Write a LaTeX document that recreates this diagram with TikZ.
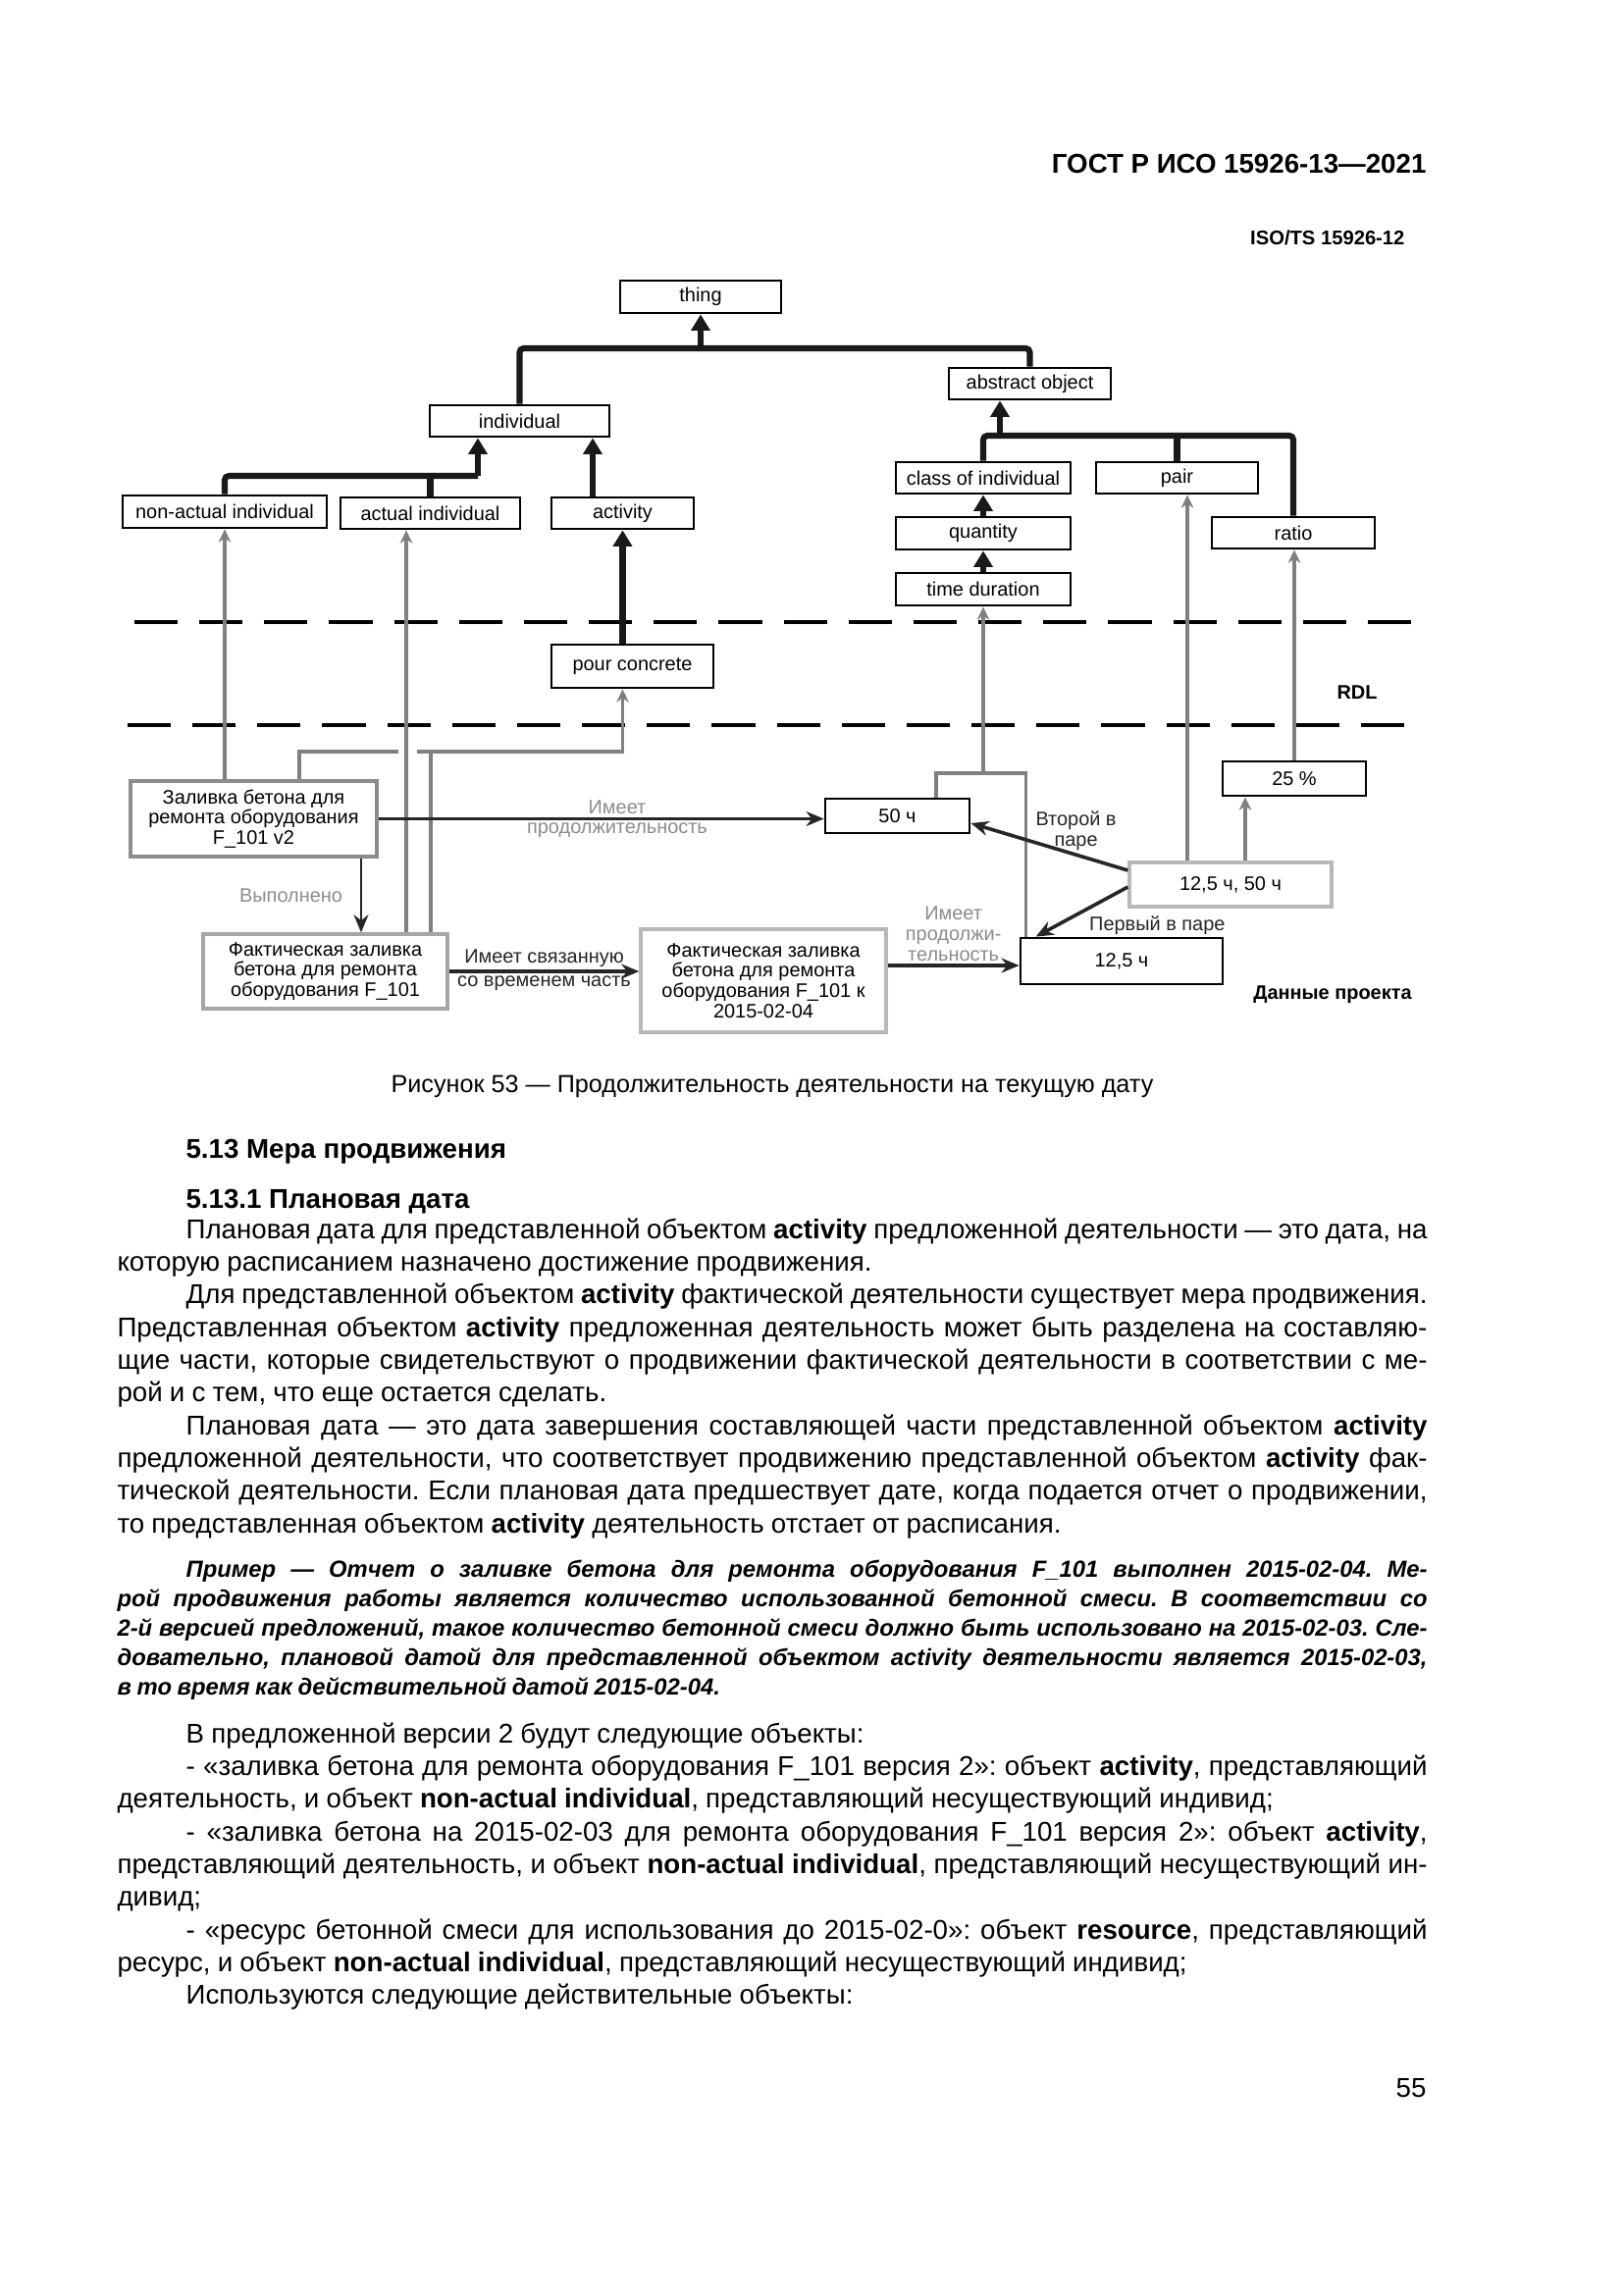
\documentclass[tikz,border=0pt]{standalone}
\usepackage{fontspec}
\setmainfont{Liberation Sans}
\setsansfont{Liberation Sans}
\usetikzlibrary{arrows.meta,positioning}

\newdimen\pix \pix=0.126965mm
\newlength\textw \setlength\textw{169.5mm}
\newcommand{\dfont}{\fontsize{7.2}{7.5}\selectfont}
\newcommand{\bodyfont}{\fontsize{10}{12.05}\selectfont}
\newcommand{\exfont}{\fontsize{8.6}{10.9}\selectfont\bfseries\itshape}
\newcommand{\bodypar}[1]{\parbox[t]{\textw}{\bodyfont\frenchspacing\parindent=8.9mm
  \spaceskip=.26em plus .5em minus .12em\hyphenpenalty=10000
  \exhyphenpenalty=10000\relax #1}}
\newcommand{\expar}[1]{\parbox[t]{\textw}{\exfont\frenchspacing\parindent=8.9mm
  \spaceskip=.24em plus .5em minus .14em\hyphenpenalty=10000
  \exhyphenpenalty=10000\relax #1}}

\begin{document}
\begin{tikzpicture}[
  x=0.126965mm, y=-0.126965mm,
  box/.style={draw, line width=1pt, inner sep=1pt, align=center, font=\dfont},
  inst/.style={box, draw=black!45, line width=1.2pt},
  instl/.style={box, draw=black!28, line width=1.2pt},
  spec/.style={line width=2.2pt, black!90, rounded corners=1.5pt},
  specar/.style={spec, -{Triangle[length=2.1mm,width=2.4mm]}},
  cls/.style={line width=1.1pt, black!50},
  clsar/.style={cls, -{Stealth[length=1.7mm,width=1.6mm]}},
  rel/.style={line width=1.3pt, black!85, -{Stealth[length=2.3mm,width=1.9mm]}},
  glab/.style={font=\dfont, text=black!45, align=center, inner sep=1pt},
  blab/.style={font=\dfont, align=center, inner sep=1pt},
  rdlline/.style={line width=1.1pt, dash pattern=on 5.6mm off 2.8mm},
  txt/.style={inner sep=0}
]
\fill[white] (0,0) rectangle (1654,2339);
\useasboundingbox (0,0) rectangle (1654,2339);

% page head
\node[txt, anchor=base east, font=\fontsize{10}{12}\selectfont\bfseries]
  (gost) at (1454,176) {ГОСТ Р ИСО 15926-13—2021};
\node[txt, anchor=base east, font=\fontsize{7.3}{8}\selectfont\bfseries]
  (isots) at (1432,249) {ISO/TS 15926-12};

% RDL classes
\node[box, minimum width=164\pix, minimum height=33\pix] (thing) at (714,302.5) {thing};
\node[box, minimum width=165\pix, minimum height=32\pix] (abstr) at (1049.5,391) {abstract object};
\node[box, minimum width=183\pix, minimum height=32\pix] (individual) at (529.5,429) {individual};
\node[box, minimum width=208\pix, minimum height=33\pix] (nonact) at (229,521.5) {non-actual individual};
\node[box, minimum width=183\pix, minimum height=32\pix] (actual) at (438.5,523) {actual individual};
\node[box, minimum width=145\pix, minimum height=32\pix] (activity) at (634.5,523) {activity};
\node[box, minimum width=178\pix, minimum height=32\pix] (classind) at (1002,487) {class of individual};
\node[box, minimum width=165\pix, minimum height=32\pix] (pair) at (1199.5,487) {pair};
\node[box, minimum width=166\pix, minimum height=32\pix] (ratio) at (1318,543) {ratio};
\node[box, minimum width=178\pix, minimum height=33\pix] (quantity) at (1002,543.5) {quantity};
\node[box, minimum width=178\pix, minimum height=33\pix] (timedur) at (1002,600.5) {time duration};
\node[box, minimum width=165\pix, minimum height=44\pix] (pour) at (644.5,679) {pour concrete};

% project data
\node[inst, minimum width=251\pix, minimum height=77\pix] (pourv2) at (258.5,834.5)
  {Заливка бетона для\\ремонта оборудования\\F\_101 v2};
\node[box, minimum width=147\pix, minimum height=35\pix] (dur50) at (914.5,831.5) {50 ч};
\node[box, minimum width=146\pix, minimum height=35\pix] (pct) at (1319,793.5) {25 \%};
\node[instl, minimum width=206\pix, minimum height=45\pix] (dpair) at (1254,901.5) {12,5 ч, 50 ч};
\node[instl, draw=black!35, minimum width=249\pix, minimum height=76\pix] (actpour) at (331.5,990)
  {Фактическая заливка\\бетона для ремонта\\оборудования F\_101};
\node[instl, minimum width=250\pix, minimum height=105\pix] (actpart) at (778,999.5)
  {Фактическая заливка\\бетона для ремонта\\оборудования F\_101 к\\2015-02-04};
\node[box, minimum width=206\pix, minimum height=47\pix] (dur125) at (1143,979.5) {12,5 ч};

\node[blab, font=\dfont\bfseries] (rdl) at (1383,706) {RDL};
\node[blab, font=\dfont\bfseries] (projdata) at (1358,1014) {Данные проекта};

% layer borders
\draw[rdlline] (137,634) -- (1448,634);
\draw[rdlline] (130,739) -- (1438,739);

% specialisation
\coordinate (bartop) at (714,355);
\draw[spec] (individual.north) |- (bartop -| abstr.north) -- (abstr.north);
\draw[specar] (bartop) -- (thing.south);
\coordinate (jind) at (487,485);
\draw[spec] (nonact.north) |- (jind);
\draw[spec] (actual.north) -- (actual.north |- jind);
\draw[specar] (jind) -- (jind |- individual.south);
\draw[specar] ([xshift=-30.5\pix]activity.north) -- ([xshift=-30.5\pix]activity.north |- individual.south);
\coordinate (jabs) at (1019,444);
\draw[spec] (classind.north) |- (ratio.north |- jabs) -- (ratio.north);
\draw[spec] (pair.north) -- (pair.north |- jabs);
\draw[specar] (jabs) -- (jabs |- abstr.south);
\draw[specar] (quantity) -- (classind);
\draw[specar] (timedur) -- (quantity);
\draw[specar] (pour.north -| activity.south) -- (activity.south);

% classification
\draw[clsar] (pourv2.north -| nonact.south) -- (nonact.south);
\draw[clsar] ([xshift=-24.5\pix]actual.south |- actpour.north) -- ([xshift=-24.5\pix]actual.south);
\coordinate (hopL) at (406,766);
\coordinate (hopR) at (425,766);
\draw[cls] ([xshift=46.5\pix]pourv2.north) |- (hopL);
\draw[cls] ([xshift=107.5\pix]actpour.north) |- (hopR);
\draw[clsar] (hopR) -| (pour.south -| activity.south);
\coordinate (jdur) at (1002,788);
\draw[cls] ([xshift=39.5\pix]dur50.north) |- ([xshift=7\pix]dur125.north west |- jdur)
  -- ([xshift=7\pix]dur125.north west);
\draw[clsar] (jdur) -- (timedur.south);
\draw[clsar] ([xshift=10.5\pix]pair.south |- dpair.north) -- ([xshift=10.5\pix]pair.south);
\draw[clsar] ([xshift=-50\pix]pct.south |- dpair.north) -- ([xshift=-50\pix]pct.south);
\draw[clsar] (pct.north) -- (pct.north |- ratio.south);

% relations
\draw[rel] (pourv2.east) -- (pourv2.east -| dur50.west)
  node[pos=.536, above, glab] {Имеет}
  node[pos=.536, below, glab] {продолжительность};
\draw[rel, line width=.9pt] ([xshift=109.5\pix]pourv2.south) -- ([xshift=109.5\pix]pourv2.south |- actpour.north)
  node[midway, left=15\pix, glab] {Выполнено};
\draw[rel] (actpour.east) -- (actpour.east -| actpart.west)
  node[midway, above, blab] {Имеет связанную}
  node[midway, below, blab] {со временем часть};
\draw[rel] ([yshift=15.5\pix]actpart.east) -- ([yshift=15.5\pix]actpart.east -| dur125.west)
  node[midway, above, glab] {Имеет\\продолжи-\\тельность};
\draw[rel] ([yshift=14.5\pix]dpair.west) -- ([yshift=-7.5\pix]dur50.east)
  node[pos=.33, above, blab] {Второй в\\паре};
\draw[rel] ([yshift=-2.5\pix]dpair.west) -- ([xshift=17\pix]dur125.north west)
  node[pos=0, anchor=north, xshift=30\pix, yshift=-25\pix, blab] {Первый в паре};

% caption and text
\node[txt, anchor=base, font=\fontsize{9.1}{11}\selectfont] (caption) at (787,1113)
  {Рисунок 53 — Продолжительность деятельности на текущую дату};
\node[txt, anchor=base west, font=\bodyfont\bfseries] (sec) at (189,1180) {5.13 Мера продвижения};
\node[txt, anchor=base west, font=\bodyfont\bfseries] (subsec) at (189,1231) {5.13.1 Плановая дата};

\node[txt, anchor=base west] (body1) at (119,1262) {\bodypar{%
Плановая дата для представленной объектом \textbf{activity} предложенной деятельности — это дата, на\linebreak
которую расписанием назначено достижение продвижения.\par
Для представленной объектом \textbf{activity} фактической деятельности существует мера продвижения.\linebreak
Представленная объектом \textbf{activity} предложенная деятельность может быть разделена на составляю-\linebreak
щие части, которые свидетельствуют о продвижении фактической деятельности в соответствии с ме-\linebreak
рой и с тем, что еще остается сделать.\par
Плановая дата — это дата завершения составляющей части представленной объектом \textbf{activity}\linebreak
предложенной деятельности, что соответствует продвижению представленной объектом \textbf{activity} фак-\linebreak
тической деятельности. Если плановая дата предшествует дате, когда подается отчет о продвижении,\linebreak
то представленная объектом \textbf{activity} деятельность отстает от расписания.}};

\node[txt, anchor=base west] (example) at (119,1607) {\expar{%
Пример — Отчет о заливке бетона для ремонта оборудования F\_101 выполнен 2015-02-04. Ме-\linebreak
рой продвижения работы является количество использованной бетонной смеси. В соответствии со\linebreak
2-й версией предложений, такое количество бетонной смеси должно быть использовано на 2015-02-03. Сле-\linebreak
довательно, плановой датой для представленной объектом activity деятельности является 2015-02-03,\linebreak
в то время как действительной датой 2015-02-04.}};

\node[txt, anchor=base west] (body2) at (119,1776) {\bodypar{%
В предложенной версии 2 будут следующие объекты:\par
- «заливка бетона для ремонта оборудования F\_101 версия 2»: объект \textbf{activity}, представляющий\linebreak
деятельность, и объект \textbf{non-actual individual}, представляющий несуществующий индивид;\par
- «заливка бетона на 2015-02-03 для ремонта оборудования F\_101 версия 2»: объект \textbf{activity},\linebreak
представляющий деятельность, и объект \textbf{non-actual individual}, представляющий несуществующий ин-\linebreak
дивид;\par
- «ресурс бетонной смеси для использования до 2015-02-0»: объект \textbf{resource}, представляющий\linebreak
ресурс, и объект \textbf{non-actual individual}, представляющий несуществующий индивид;\par
Используются следующие действительные объекты:}};

\node[txt, anchor=base east, font=\bodyfont] (pagenum) at (1454,2137) {55};
\end{tikzpicture}
\end{document}
